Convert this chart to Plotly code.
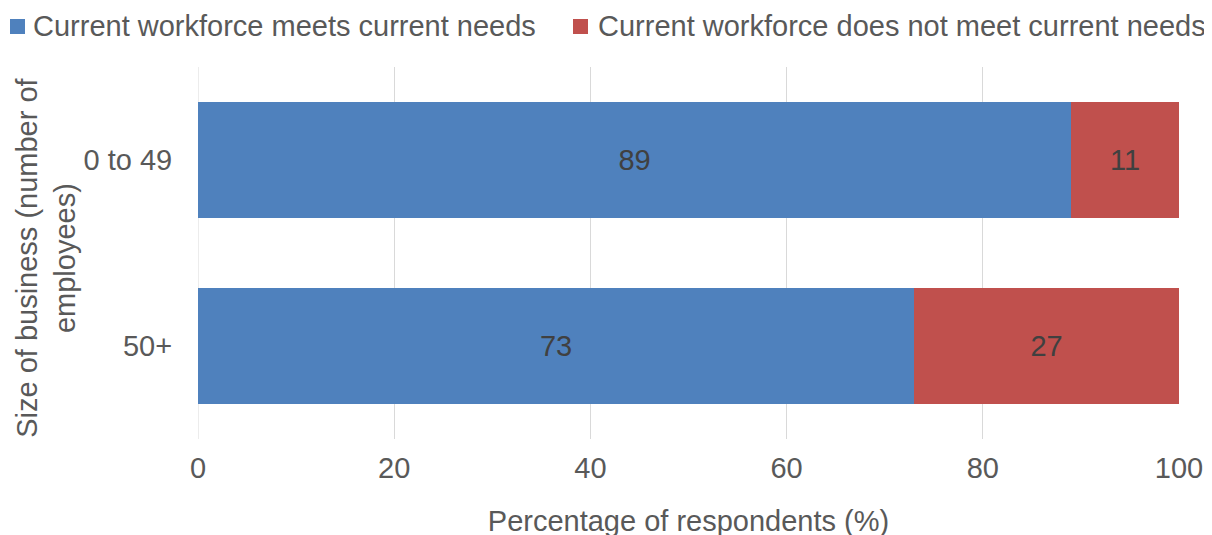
import plotly.graph_objects as go

categories = ["0 to 49", "50+"]
meets = [89, 73]
not_meets = [11, 27]
series_names = ["Current workforce meets current needs", "Current workforce does not meet current needs"]
series_colors = ["#4f81bd", "#c0504d"]
x_ticks = [0, 20, 40, 60, 80, 100]

FONT = "Arial"
GREY = "#595959"
FS = 29

# layout geometry (figure pixels)
W, H = 1212, 535
ML, MR, MT, MB = 190, 41, 59, 104
PW = W - ML - MR
PH = H - MT - MB


def px(x):
    return (x - ML) / PW


def py(y):
    return 1 + (MT - y) / PH


fig = go.Figure()
for vals, name, color in [(meets, series_names[0], series_colors[0]),
                          (not_meets, series_names[1], series_colors[1])]:
    fig.add_trace(go.Bar(
        y=categories, x=vals, name=name, orientation="h",
        marker=dict(color=color, line=dict(width=0)),
        text=vals, textposition="inside", insidetextanchor="middle",
        textfont=dict(family=FONT, size=FS, color="#404040"), width=0.624,
        showlegend=False,
    ))

# legend drawn as squares + text (page offset of 8px accounted for)
legend_items = [(2, 23), (565, 588)]
annotations = []
shapes = []
for (sq_x, tx_x), name, color in zip(legend_items, series_names, series_colors):
    shapes.append(dict(type="rect", xref="paper", yref="paper",
                       x0=px(sq_x), x1=px(sq_x + 15), y0=py(26), y1=py(11),
                       fillcolor=color, line=dict(width=0)))
    annotations.append(dict(text=name, xref="paper", yref="paper",
                            x=px(tx_x), y=py(18.5), xanchor="left", yanchor="middle",
                            showarrow=False, font=dict(family=FONT, size=FS, color=GREY)))

annotations.append(dict(
    text="Size of business (number of<br>employees)", textangle=-90,
    xref="paper", yref="paper", x=px(38), y=0.487,
    xanchor="center", yanchor="middle", showarrow=False,
    font=dict(family=FONT, size=FS, color=GREY),
))

fig.update_layout(
    barmode="stack",
    width=W, height=H,
    margin=dict(l=ML, r=MR, t=MT, b=MB),
    paper_bgcolor="white", plot_bgcolor="white",
    font=dict(family=FONT, size=FS, color=GREY),
    showlegend=False,
    xaxis=dict(range=[0, 100], tickvals=x_ticks, ticktext=[str(v) for v in x_ticks],
               showgrid=True, gridcolor="#d9d9d9", gridwidth=1, zeroline=False,
               showline=False, ticks="outside", ticklen=3, tickcolor="rgba(0,0,0,0)",
               tickfont=dict(family=FONT, size=FS, color=GREY),
               title=dict(text="Percentage of respondents (%)", standoff=27,
                          font=dict(family=FONT, size=FS, color=GREY)),
               fixedrange=True),
    yaxis=dict(categoryorder="array", categoryarray=categories, autorange="reversed",
               showgrid=False, zeroline=False, showline=False,
               ticks="outside", ticklen=19, tickcolor="rgba(0,0,0,0)",
               tickfont=dict(family=FONT, size=FS, color=GREY), fixedrange=True),
    annotations=annotations,
    shapes=shapes,
)
fig.add_shape(type="line", xref="x", yref="paper", x0=0, x1=0, y0=0, y1=1,
              line=dict(color="#d9d9d9", width=1), layer="below")

fig.write_html("out.html")
